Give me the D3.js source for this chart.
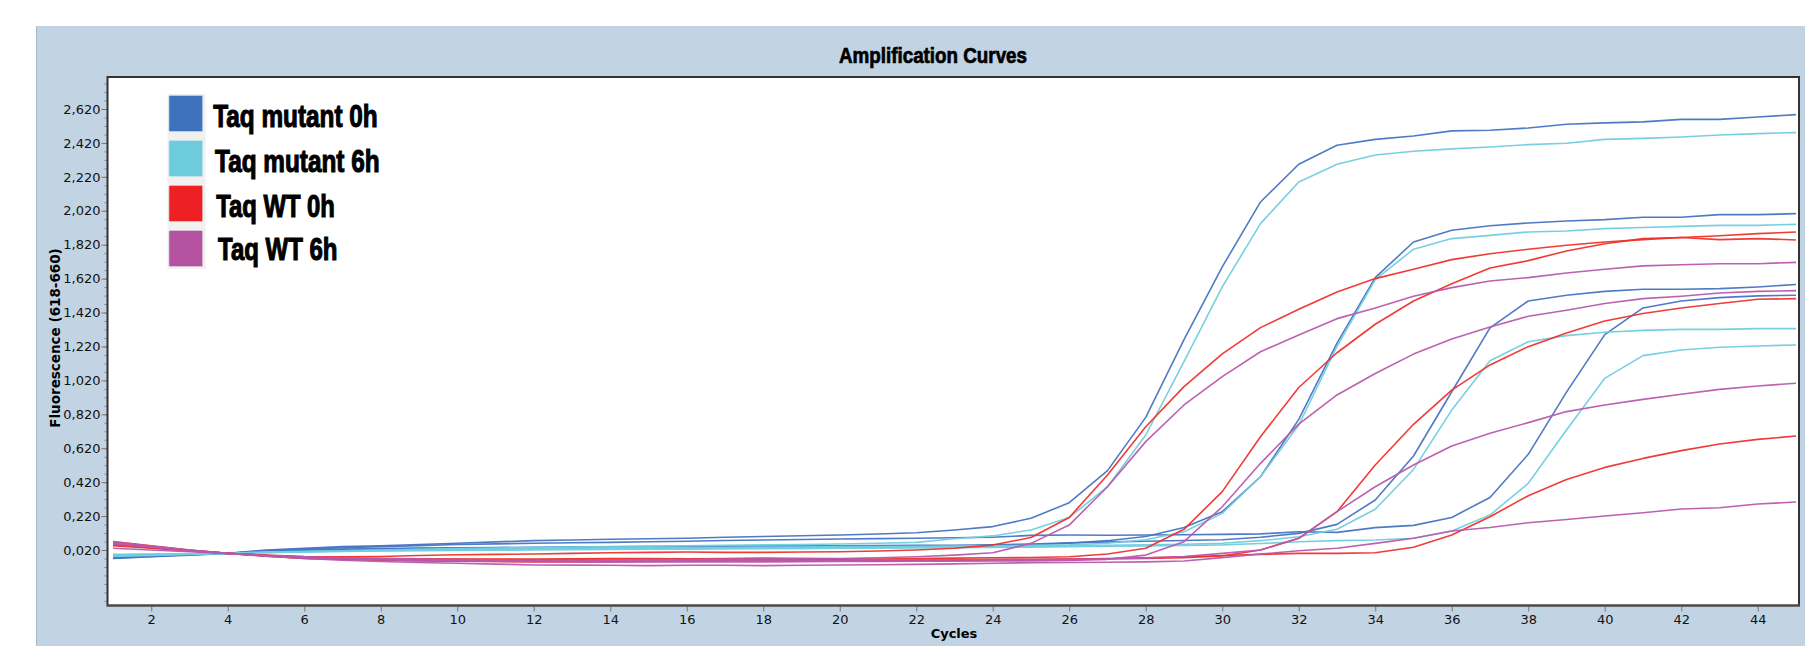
<!DOCTYPE html>
<html>
<head>
<meta charset="utf-8">
<script src="https://cdn.jsdelivr.net/npm/d3@7"></script>
<style>
  html, body { margin: 0; padding: 0; background: #fff; }
  svg { display: block; }
</style>
</head>
<body>
<div id="chart"></div>
<script>
// cycle numbers (x) and axis ticks
const cycles = [1,2,3,4,5,6,7,8,9,10,11,12,13,14,15,16,17,18,19,20,21,22,23,24,25,26,27,28,29,30,31,32,33,34,35,36,37,38,39,40,41,42,43,44,45];
const xTicks = [2,4,6,8,10,12,14,16,18,20,22,24,26,28,30,32,34,36,38,40,42,44];
const yTicks = [0.02,0.22,0.42,0.62,0.82,1.02,1.22,1.42,1.62,1.82,2.02,2.22,2.42,2.62];

// legend
const sampleNames = ["Taq mutant 0h", "Taq mutant 6h", "Taq WT 0h", "Taq WT 6h"];
const sampleColors = ["#3f72bc", "#6dcbdb", "#ee2024", "#b552a0"];
const lineColors = ["#4673c2", "#70cde0", "#f0302a", "#b858ac"];

// fluorescence per cycle, 4 wells per sample
const mutant0h = [
  [-0.03,-0.02,-0.01,0,0.02,0.03,0.04,0.045,0.052,0.06,0.068,0.075,0.079,0.083,0.086,0.089,0.095,0.1,0.104,0.108,0.114,0.122,0.138,0.158,0.207,0.299,0.488,0.802,1.26,1.689,2.072,2.294,2.406,2.441,2.461,2.491,2.495,2.508,2.53,2.538,2.544,2.559,2.559,2.573,2.587],
  [-0.02,-0.012,-0.005,0,0.01,0.015,0.02,0.025,0.028,0.03,0.033,0.035,0.036,0.037,0.038,0.039,0.04,0.04,0.04,0.041,0.042,0.043,0.044,0.046,0.05,0.06,0.075,0.1,0.153,0.246,0.452,0.79,1.24,1.626,1.836,1.905,1.932,1.948,1.96,1.968,1.982,1.982,1.997,1.997,2.003],
  [-0.022,-0.014,-0.006,0,0.012,0.02,0.025,0.028,0.031,0.033,0.034,0.035,0.037,0.039,0.04,0.041,0.042,0.043,0.044,0.045,0.046,0.047,0.048,0.05,0.055,0.062,0.068,0.072,0.076,0.08,0.095,0.118,0.171,0.315,0.574,0.953,1.33,1.488,1.522,1.545,1.557,1.557,1.561,1.571,1.585],
  [-0.028,-0.018,-0.008,0,0.015,0.025,0.033,0.04,0.046,0.052,0.056,0.06,0.063,0.065,0.069,0.072,0.076,0.079,0.082,0.085,0.087,0.089,0.092,0.095,0.106,0.108,0.107,0.108,0.11,0.112,0.115,0.128,0.124,0.152,0.165,0.212,0.33,0.584,0.951,1.29,1.447,1.488,1.508,1.518,1.522]
];
const mutant6h = [
  [-0.01,-0.006,-0.003,0,0.006,0.01,0.015,0.02,0.024,0.028,0.032,0.035,0.038,0.04,0.043,0.045,0.048,0.05,0.052,0.055,0.06,0.065,0.086,0.103,0.138,0.212,0.393,0.698,1.13,1.571,1.944,2.19,2.294,2.349,2.371,2.385,2.396,2.41,2.418,2.441,2.447,2.455,2.467,2.475,2.481],
  [-0.006,-0.004,-0.002,0,0.008,0.012,0.016,0.02,0.023,0.026,0.028,0.03,0.031,0.033,0.034,0.035,0.036,0.037,0.038,0.04,0.041,0.042,0.043,0.045,0.047,0.05,0.06,0.08,0.128,0.236,0.452,0.757,1.22,1.614,1.793,1.856,1.875,1.895,1.901,1.915,1.921,1.928,1.934,1.934,1.94],
  [-0.014,-0.01,-0.004,0,0.006,0.01,0.013,0.016,0.019,0.021,0.023,0.025,0.027,0.028,0.03,0.031,0.032,0.033,0.034,0.035,0.037,0.038,0.04,0.041,0.043,0.045,0.047,0.05,0.054,0.06,0.075,0.098,0.142,0.26,0.495,0.845,1.136,1.248,1.284,1.304,1.315,1.321,1.321,1.325,1.325],
  [-0.018,-0.012,-0.006,0,0.004,0.008,0.011,0.014,0.016,0.018,0.019,0.02,0.022,0.023,0.024,0.025,0.026,0.027,0.028,0.03,0.031,0.032,0.034,0.035,0.037,0.04,0.042,0.044,0.047,0.05,0.058,0.069,0.075,0.079,0.089,0.132,0.226,0.413,0.727,1.032,1.166,1.199,1.215,1.223,1.229]
];
const wt0h = [
  [0.07,0.045,0.02,0,-0.01,-0.018,-0.02,-0.018,-0.012,-0.008,-0.006,-0.004,0,0.004,0.006,0.008,0.006,0.006,0.008,0.01,0.014,0.02,0.03,0.049,0.094,0.212,0.462,0.747,0.983,1.176,1.331,1.439,1.541,1.62,1.675,1.732,1.767,1.793,1.817,1.836,1.85,1.862,1.873,1.885,1.895],
  [0.06,0.04,0.018,0,-0.015,-0.03,-0.034,-0.036,-0.036,-0.035,-0.034,-0.033,-0.032,-0.031,-0.03,-0.032,-0.03,-0.028,-0.03,-0.032,-0.034,-0.03,-0.028,-0.026,-0.024,-0.02,-0.004,0.03,0.142,0.364,0.688,0.978,1.183,1.351,1.488,1.59,1.683,1.726,1.783,1.826,1.856,1.862,1.85,1.856,1.848],
  [0.05,0.034,0.016,0,-0.012,-0.022,-0.028,-0.03,-0.032,-0.034,-0.036,-0.038,-0.036,-0.035,-0.034,-0.036,-0.037,-0.036,-0.035,-0.036,-0.046,-0.04,-0.038,-0.036,-0.036,-0.035,-0.032,-0.03,-0.025,-0.015,0.02,0.089,0.246,0.521,0.761,0.963,1.111,1.219,1.3,1.37,1.414,1.447,1.473,1.498,1.502],
  [0.045,0.03,0.014,0,-0.016,-0.028,-0.035,-0.04,-0.044,-0.046,-0.048,-0.05,-0.05,-0.05,-0.048,-0.046,-0.045,-0.044,-0.044,-0.043,-0.042,-0.04,-0.04,-0.038,-0.036,-0.034,-0.03,-0.026,-0.02,-0.012,-0.006,0,0,0.004,0.036,0.108,0.216,0.34,0.436,0.507,0.56,0.606,0.645,0.672,0.692]
];
const wt6h = [
  [0.068,0.044,0.02,0,-0.012,-0.02,-0.026,-0.03,-0.034,-0.036,-0.038,-0.04,-0.04,-0.038,-0.036,-0.036,-0.034,-0.032,-0.03,-0.03,-0.026,-0.02,-0.01,0.004,0.059,0.167,0.393,0.659,0.875,1.042,1.189,1.287,1.384,1.447,1.516,1.567,1.606,1.626,1.653,1.675,1.695,1.702,1.708,1.708,1.716],
  [0.03,0.02,0.01,0,-0.012,-0.024,-0.032,-0.038,-0.042,-0.045,-0.047,-0.048,-0.049,-0.05,-0.05,-0.05,-0.05,-0.05,-0.049,-0.048,-0.047,-0.046,-0.046,-0.045,-0.044,-0.042,-0.035,-0.01,0.069,0.275,0.531,0.762,0.934,1.061,1.175,1.264,1.335,1.398,1.433,1.473,1.502,1.516,1.535,1.545,1.549],
  [0.062,0.04,0.018,0,-0.014,-0.024,-0.03,-0.034,-0.037,-0.04,-0.042,-0.044,-0.043,-0.042,-0.042,-0.041,-0.04,-0.04,-0.04,-0.04,-0.039,-0.038,-0.038,-0.037,-0.036,-0.035,-0.032,-0.028,-0.018,0,0.02,0.089,0.246,0.393,0.521,0.633,0.708,0.771,0.836,0.875,0.908,0.938,0.967,0.987,1.003],
  [0.055,0.036,0.016,0,-0.016,-0.03,-0.04,-0.048,-0.054,-0.058,-0.063,-0.068,-0.069,-0.07,-0.072,-0.07,-0.07,-0.072,-0.07,-0.068,-0.067,-0.065,-0.062,-0.058,-0.055,-0.054,-0.052,-0.05,-0.045,-0.025,-0.004,0.016,0.03,0.059,0.089,0.132,0.153,0.181,0.2,0.22,0.24,0.262,0.269,0.291,0.303]
];

const samples = [mutant0h, mutant6h, wt0h, wt6h];

const W = 1805, H = 646;
const plot = { left: 107.5, top: 77, right: 1799, bottom: 605.5 };

const svg = d3.select("#chart").append("svg")
  .attr("width", W)
  .attr("height", H);

// panel background
svg.append("rect")
  .attr("x", 36).attr("y", 26)
  .attr("width", W - 36).attr("height", H - 26)
  .attr("fill", "#c2d4e4");
svg.append("line")
  .attr("x1", 36.5).attr("x2", 36.5).attr("y1", 26).attr("y2", H)
  .attr("stroke", "#aab9c8").attr("stroke-width", 1);

// plot area
svg.append("rect")
  .attr("x", plot.left).attr("y", plot.top)
  .attr("width", plot.right - plot.left).attr("height", plot.bottom - plot.top)
  .attr("fill", "#fff");

let x = d3.scaleLinear().domain([1, 45]).range([113, 1796]);
let y = d3.scaleLinear().domain([0.02, 2.62]).range([550, 109]);

// title
svg.append("text")
  .attr("x", 933).attr("y", 62.7)
  .attr("text-anchor", "middle")
  .attr("font-family", "'Liberation Sans Narrow', 'Arial Narrow', 'Liberation Sans', sans-serif")
  .attr("font-weight", "bold")
  .attr("font-size", "22px")
  .attr("textLength", 188)
  .attr("lengthAdjust", "spacingAndGlyphs")
  .attr("stroke", "#000")
  .attr("stroke-width", 0.7)
  .text("Amplification Curves");

// y axis: minor then major ticks
const fmt = v => d3.format(".3f")(v).replace(".", ",");
const minorY = d3.range(-0.28, 2.80, 0.05);

svg.append("g")
  .attr("transform", `translate(${plot.left},0)`)
  .call(d3.axisLeft(y).tickValues(minorY).tickSize(3).tickFormat(""))
  .call(g => g.select(".domain").remove())
  .call(g => g.selectAll("line").attr("stroke", "#888"));

let yAxis = svg.append("g")
  .attr("transform", `translate(${plot.left},0)`)
  .call(d3.axisLeft(y).tickValues(yTicks).tickSize(6).tickPadding(1).tickFormat(fmt));
yAxis.select(".domain").remove();
yAxis.selectAll("line").attr("stroke", "#777");
yAxis.selectAll("text")
  .attr("font-family", "'DejaVu Sans', Verdana, sans-serif")
  .attr("font-size", "13px")
  .attr("fill", "#111");

// x axis
let xAxis = svg.append("g")
  .attr("transform", `translate(0,${plot.bottom})`)
  .call(d3.axisBottom(x).tickValues(xTicks).tickSize(6).tickPadding(3).tickFormat(d3.format("d")));
xAxis.select(".domain").remove();
xAxis.selectAll("line").attr("stroke", "#777");
xAxis.selectAll("text")
  .attr("font-family", "'DejaVu Sans', Verdana, sans-serif")
  .attr("font-size", "13px")
  .attr("fill", "#111");

// axis titles
svg.append("text")
  .attr("x", 954).attr("y", 638.3)
  .attr("text-anchor", "middle")
  .attr("font-family", "'DejaVu Sans', Verdana, sans-serif")
  .attr("font-weight", "bold")
  .attr("font-size", "13px")
  .text("Cycles");

svg.append("text")
  .attr("transform", "translate(59.5,338) rotate(-90)")
  .attr("text-anchor", "middle")
  .attr("font-family", "'DejaVu Sans', Verdana, sans-serif")
  .attr("font-weight", "bold")
  .attr("font-size", "13.5px")
  .text("Fluorescence (618-660)");

// curves
svg.append("clipPath").attr("id", "plotclip")
  .append("rect")
  .attr("x", plot.left).attr("y", plot.top)
  .attr("width", plot.right - plot.left).attr("height", plot.bottom - plot.top);

const line = d3.line()
  .x((d, i) => x(cycles[i]))
  .y(d => y(d));

const wells = [];
samples.forEach((s, si) => s.forEach(w => wells.push({ sample: si, values: w })));

svg.append("g")
  .attr("clip-path", "url(#plotclip)")
  .selectAll("path")
  .data(wells)
  .enter()
  .append("path")
  .attr("d", d => line(d.values))
  .attr("fill", "none")
  .attr("stroke", d => lineColors[d.sample])
  .attr("stroke-width", 1.6)
  .attr("stroke-opacity", 0.95)
  .attr("stroke-linejoin", "round");

// plot frame
svg.append("path")
  .attr("d", `M${plot.left},${plot.bottom} V${plot.top} H${plot.right} V${plot.bottom}`)
  .attr("fill", "none")
  .attr("stroke", "#333")
  .attr("stroke-width", 2);
svg.append("line")
  .attr("x1", plot.left - 1).attr("x2", plot.right + 1)
  .attr("y1", plot.bottom).attr("y2", plot.bottom)
  .attr("stroke", "#4a4a4a")
  .attr("stroke-width", 2.5);

// legend
const legendTextX = [213.2, 215.1, 216.2, 218.1];
const legendBase = [126.7, 171.7, 216.7, 260];
const legendLen = [164.5, 164.5, 118.7, 119.4];

svg.append("rect")
  .attr("x", 167.6).attr("y", 94)
  .attr("width", 38).attr("height", 175)
  .attr("fill", "#f1f1f1");

let legend = svg.selectAll("g.leg")
  .data(sampleNames)
  .enter()
  .append("g")
  .attr("class", "leg");

legend.append("rect")
  .attr("x", 168.8)
  .attr("y", (d, i) => 95.3 + i * 45)
  .attr("width", 34)
  .attr("height", 36.4)
  .attr("rx", 1.5)
  .attr("fill", (d, i) => sampleColors[i])
  .attr("stroke", "#e4e8ee")
  .attr("stroke-width", 0.8);

legend.append("text")
  .attr("x", (d, i) => legendTextX[i])
  .attr("y", (d, i) => legendBase[i])
  .attr("font-family", "'Liberation Sans Narrow', 'Arial Narrow', 'Liberation Sans', sans-serif")
  .attr("font-weight", "bold")
  .attr("font-size", "31px")
  .attr("textLength", (d, i) => legendLen[i])
  .attr("lengthAdjust", "spacingAndGlyphs")
  .attr("fill", "#000")
  .attr("stroke", "#000")
  .attr("stroke-width", 1.1)
  .text(d => d);
</script>
</body>
</html>
